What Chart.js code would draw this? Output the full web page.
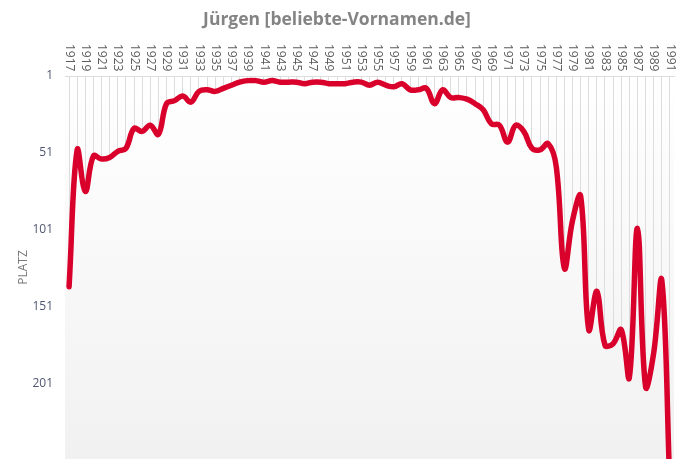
<!DOCTYPE html>
<html>
<head>
<meta charset="utf-8">
<script src="https://cdn.jsdelivr.net/npm/chart.js@4.4.0/dist/chart.umd.min.js"></script>
<style>
  html, body { margin: 0; padding: 0; background: #ffffff; }
  #wrap { width: 689px; height: 474px; position: relative; }
</style>
</head>
<body>
<div id="wrap"><canvas id="c"></canvas></div>
<script>
const titleText = 'Jürgen [beliebte-Vornamen.de]';
const yAxisTitle = 'PLATZ';

const years = [
  '1917','1918','1919','1920','1921','1922','1923','1924','1925','1926',
  '1927','1928','1929','1930','1931','1932','1933','1934','1935','1936',
  '1937','1938','1939','1940','1941','1942','1943','1944','1945','1946',
  '1947','1948','1949','1950','1951','1952','1953','1954','1955','1956',
  '1957','1958','1959','1960','1961','1962','1963','1964','1965','1966',
  '1967','1968','1969','1970','1971','1972','1973','1974','1975','1976',
  '1977','1978','1979','1980','1981','1982','1983','1984','1985','1986',
  '1987','1988','1989','1990','1991'
];

const ranks = [
  138, 49, 76, 53, 55, 54, 50, 48, 35, 37,
  33, 39, 19, 17, 14, 18, 11, 10, 11, 9,
  7, 5, 4, 4, 5, 4, 5, 5, 5, 6,
  5, 5, 6, 6, 6, 5, 5, 7, 5, 7,
  8, 6, 10, 10, 9, 19, 10, 15, 15, 16,
  19, 23, 32, 33, 44, 33, 37, 48, 49, 45,
  60, 126, 95, 79, 166, 141, 176, 175, 166, 197,
  100, 203, 181, 134, 270
];

const yTickValues = [1, 51, 101, 151, 201];
const yMin = 1;
const yMax = 250;

const TICK_FONT = "'Liberation Sans Narrow', 'Open Sans', sans-serif";

function areaGradient(ctx, area) {
  const g = ctx.createLinearGradient(0, area.top, 0, area.bottom);
  g.addColorStop(0, '#ffffff');
  g.addColorStop(1, '#f1f1f1');
  return g;
}

const bgPlugin = {
  id: 'areaBg',
  beforeDraw(chart) {
    const area = chart.chartArea;
    if (!area) return;
    const ctx = chart.ctx;
    ctx.save();
    ctx.fillStyle = areaGradient(ctx, area);
    ctx.fillRect(area.left, area.top, area.right - area.left, area.bottom - area.top);
    ctx.restore();
  }
};

const topLabelPlugin = {
  id: 'topLabels',
  afterDraw(chart) {
    const s = chart.scales.x;
    const ctx = chart.ctx;
    ctx.save();
    ctx.font = '12px ' + TICK_FONT;
    ctx.fillStyle = '#5c5c5c';
    ctx.textAlign = 'left';
    ctx.textBaseline = 'middle';
    s.ticks.forEach((t, i) => {
      if (i % 2 !== 0) return;
      const x = s.getPixelForTick(i);
      ctx.save();
      ctx.translate(x, s.top + 3);
      ctx.rotate(Math.PI / 2);
      ctx.fillText(years[i], 0, 0);
      ctx.restore();
    });
    ctx.restore();
  }
};

new Chart(document.getElementById('c'), {
  type: 'line',
  data: {
    labels: years,
    datasets: [{
      data: ranks,
      borderColor: '#d9002b',
      borderWidth: 5.5,
      borderCapStyle: 'round',
      borderJoinStyle: 'round',
      pointRadius: 0,
      pointHoverRadius: 0,
      tension: 0.4,
      fill: 'start',
      backgroundColor: (c) => {
        const area = c.chart.chartArea;
        if (!area) return '#f8f8f8';
        return areaGradient(c.chart.ctx, area);
      }
    }]
  },
  options: {
    responsive: true,
    maintainAspectRatio: false,
    animation: false,
    devicePixelRatio: 1,
    layout: { padding: { top: 0, left: 0, right: 15, bottom: 15 } },
    plugins: {
      legend: { display: false },
      tooltip: { enabled: false },
      title: {
        display: true,
        text: titleText,
        color: '#848484',
        font: { family: "'Open Sans', sans-serif", size: 17.5, weight: 'bold' },
        padding: { top: 10, bottom: 10 }
      }
    },
    scales: {
      x: {
        position: 'top',
        offset: true,
        ticks: { display: false, autoSkip: false },
        grid: { color: '#dddddd', lineWidth: 1, drawTicks: false, offset: false },
        border: { color: '#dddddd' },
        afterFit: (s) => { s.height = 35; s.paddingLeft = 0; s.paddingRight = 0; }
      },
      y: {
        reverse: true,
        min: yMin,
        max: yMax,
        afterBuildTicks: (s) => { s.ticks = yTickValues.map(v => ({ value: v })); },
        afterFit: (s) => { s.width = 65; s.paddingTop = 0; s.paddingBottom = 0; },
        ticks: {
          color: '#4f5670',
          padding: 12,
          font: { family: TICK_FONT, size: 12 }
        },
        grid: { display: false, drawTicks: false },
        border: { display: false },
        title: {
          display: true,
          text: yAxisTitle,
          color: '#7a7a7a',
          font: { family: "'Open Sans', sans-serif", size: 12 },
          padding: { top: 16, bottom: 0 }
        }
      }
    }
  },
  plugins: [bgPlugin, topLabelPlugin]
});
</script>
</body>
</html>
